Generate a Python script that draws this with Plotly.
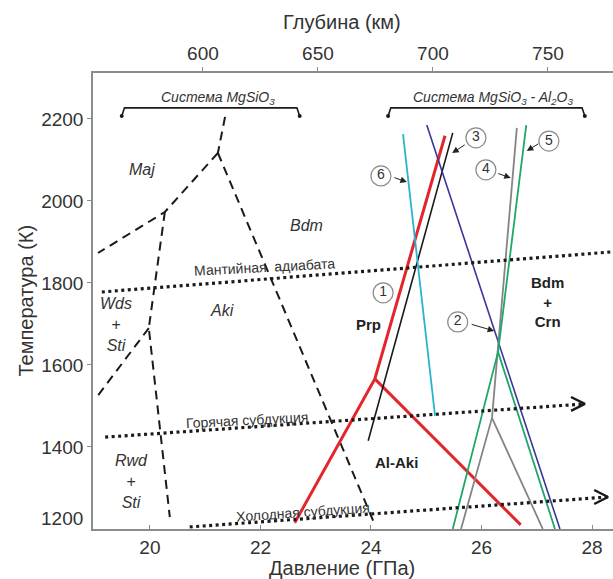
import plotly.graph_objects as go

# ---- axes ----
P_RANGE = [18.97, 28.38]          # pressure, GPa
T_RANGE = [1200, 2312]            # temperature, K
DEPTH_RANGE = [552.2, 778.3]      # depth, km (top axis)

p_ticks = [20, 22, 24, 26, 28]
t_ticks = [1400, 1600, 1800, 2000, 2200]
t_tick_bottom = 1200
depth_ticks = [600, 650, 700, 750]

# ---- MgSiO3 phase boundaries (dashed) ----
maj_top_p, maj_top_t = [21.36, 21.23], [2205, 2117]
maj_low_p, maj_low_t = [21.23, 20.27, 19.06], [2117, 1973, 1873]
aki_bdm_p, aki_bdm_t = [21.23, 24.05], [2117, 1217]
wds_aki_p, wds_aki_t = [20.27, 19.98, 20.36], [1973, 1690, 1229]
wds_rwd_p, wds_rwd_t = [19.98, 19.04], [1690, 1522]
dashed_bounds = [
    (maj_top_p, maj_top_t), (maj_low_p, maj_low_t), (aki_bdm_p, aki_bdm_t),
    (wds_aki_p, wds_aki_t), (wds_rwd_p, wds_rwd_t),
]

# ---- MgSiO3-Al2O3 boundaries ----
red_up_p, red_up_t = [22.62, 24.07, 25.34], [1215, 1566, 2159]
red_dn_p, red_dn_t = [24.07, 26.71], [1566, 1210]
black_p, black_t = [23.95, 25.48], [1415, 2166]
cyan_p, cyan_t = [24.58, 25.16], [2163, 1476]
navy_p, navy_t = [25.01, 27.42], [2185, 1200]
gray_up_p, gray_up_t = [26.64, 26.19], [2178, 1471]
gray_legs_p, gray_legs_t = [25.63, 26.19, 27.11], [1200, 1471, 1200]
green_up_p, green_up_t = [26.81, 26.30], [2185, 1632]
green_legs_p, green_legs_t = [25.48, 26.30, 27.33], [1200, 1632, 1200]

RED, BLACK, CYAN, NAVY, GRAY, GREEN = "#e3262b", "#1a1a1a", "#2ab3cf", "#3b3597", "#858585", "#1fa769"
solid_lines = [
    (red_up_p, red_up_t, RED, 3), (red_dn_p, red_dn_t, RED, 3),
    (black_p, black_t, BLACK, 1.6), (cyan_p, cyan_t, CYAN, 1.8),
    (navy_p, navy_t, NAVY, 1.6),
    (gray_up_p, gray_up_t, GRAY, 1.8), (gray_legs_p, gray_legs_t, GRAY, 1.8),
    (green_up_p, green_up_t, GREEN, 1.8), (green_legs_p, green_legs_t, GREEN, 1.8),
]

# ---- geotherms (dotted) ----
adiabat_p, adiabat_t = [19.13, 28.38], [1778, 1876]
hot_p, hot_t = [19.19, 27.87], [1424, 1505]
cold_p, cold_t = [20.72, 28.29], [1205, 1278]

# ---- text ----
phase_italic = [("Maj", 19.86, 2076), ("Bdm", 22.84, 1939), ("Aki", 21.30, 1734),
                ("Wds<br>+<br>Sti", 19.38, 1698), ("Rwd<br>+<br>Sti", 19.67, 1315)]
phase_bold = [("Prp", 23.95, 1698), ("Al-Aki", 24.47, 1361), ("Bdm<br>+<br>Crn", 27.20, 1754)]
geotherm_labels = [("Мантийная  адиабата", 22.08, 1839, -3),
                   ("Горячая субдукция", 21.76, 1466, -3),
                   ("Холодная субдукция", 22.77, 1241, -4)]
system_spans = [(19.49, 22.71), (24.31, 27.87)]
system_names = ["<i>Система MgSiO<sub>3</sub></i>",
                "<i>Система MgSiO<sub>3</sub> - Al<sub>2</sub>O<sub>3</sub></i>"]
system_label_p = [21.23, 26.21]
bracket_t, bracket_end_t, system_label_t = 2227, 2207, 2250

circle_nums = ["1", "2", "3", "4", "5", "6"]
circle_p = [24.22, 25.57, 25.90, 26.08, 27.22, 24.18]
circle_t = [1776, 1705, 2154, 2076, 2146, 2061]
# pointer heads (data) and tail offsets (px)
pointer_p = [26.23, 25.47, 26.53, 26.82, 24.65]
pointer_t = [1683, 2117, 2056, 2122, 2046]
pointer_ax = [-24, 14, -14, 13, -14]
pointer_ay = [-7, -9, -5, -8, -5]

FONT = "Liberation Sans, Arial, sans-serif"
TXT = "#333333"

fig = go.Figure()

for px_, tx_ in dashed_bounds:
    fig.add_trace(go.Scatter(x=px_, y=tx_, mode="lines",
                             line=dict(color=BLACK, width=2, dash="9px,6px")))

for px_, tx_, col, w in solid_lines:
    fig.add_trace(go.Scatter(x=px_, y=tx_, mode="lines", line=dict(color=col, width=w)))

for px_, tx_ in [(adiabat_p, adiabat_t), (hot_p, hot_t), (cold_p, cold_t)]:
    fig.add_trace(go.Scatter(x=px_, y=tx_, mode="lines",
                             line=dict(color=BLACK, width=3.2, dash="3px,3.5px")))

# open chevrons at the ends of the subduction geotherms
for px_, tx_ in [(hot_p, hot_t), (cold_p, cold_t)]:
    tip_p, tip_t = px_[-1], tx_[-1]
    fig.add_trace(go.Scatter(x=[tip_p - 0.25, tip_p, tip_p - 0.25],
                             y=[tip_t + 17, tip_t, tip_t - 17], mode="lines",
                             line=dict(color=BLACK, width=2.4)))

# system brackets
for p0, p1 in system_spans:
    fig.add_trace(go.Scatter(x=[p0, p0 + 0.05, p1 - 0.05, p1],
                             y=[bracket_end_t, bracket_t, bracket_t, bracket_end_t],
                             mode="lines", line=dict(color=BLACK, width=1.6)))
    fig.add_trace(go.Scatter(x=[p0, p1], y=[bracket_end_t, bracket_end_t], mode="markers",
                             marker=dict(color=BLACK, size=4)))

# numbered circles
fig.add_trace(go.Scatter(x=circle_p, y=circle_t, mode="markers+text", text=circle_nums,
                         textposition="middle center",
                         textfont=dict(family=FONT, size=14, color=TXT),
                         marker=dict(symbol="circle", size=20, color="white",
                                     line=dict(color="#8a8a8a", width=1.2))))

# invisible trace carrying the depth axis
fig.add_trace(go.Scatter(x=DEPTH_RANGE, y=[T_RANGE[0], T_RANGE[0]], xaxis="x2",
                         mode="markers", marker=dict(opacity=0), hoverinfo="skip"))

ann = []
for txt, p, t in phase_italic:
    ann.append(dict(x=p, y=t, text=f"<i>{txt}</i>", showarrow=False,
                    font=dict(family=FONT, size=16, color=TXT)))
for txt, p, t in phase_bold:
    ann.append(dict(x=p, y=t, text=f"<b>{txt}</b>", showarrow=False,
                    font=dict(family=FONT, size=15, color="#222222")))
for txt, p, t, ang in geotherm_labels:
    ann.append(dict(x=p, y=t, text=txt, showarrow=False, textangle=ang,
                    font=dict(family=FONT, size=14, color=TXT)))
for name, p in zip(system_names, system_label_p):
    ann.append(dict(x=p, y=system_label_t, text=name, showarrow=False,
                    font=dict(family=FONT, size=14, color=TXT)))
for p, t, ax, ay in zip(pointer_p, pointer_t, pointer_ax, pointer_ay):
    ann.append(dict(x=p, y=t, ax=ax, ay=ay, text="", showarrow=True, arrowhead=2,
                    arrowsize=1.3, arrowwidth=1, arrowcolor="#222222", standoff=0))

# axis titles and the bottom temperature label
title_font = dict(family=FONT, size=20, color=TXT)
ann += [
    dict(xref="paper", yref="paper", x=0.479, y=1.112, xanchor="center", yanchor="middle",
         text="Глубина (км)", showarrow=False, font=title_font),
    dict(xref="paper", yref="paper", x=0.479, y=-0.086, xanchor="center", yanchor="middle",
         text="Давление (ГПа)", showarrow=False, font=title_font),
    dict(xref="paper", yref="paper", x=-0.128, y=0.502, xanchor="center", yanchor="middle",
         text="Температура (К)", showarrow=False, textangle=-90, font=title_font),
    dict(xref="paper", x=0, y=t_tick_bottom, xanchor="right", yanchor="middle", xshift=-8,
         yshift=11, text=str(t_tick_bottom), showarrow=False,
         font=dict(family=FONT, size=19, color=TXT)),
]

axis_common = dict(showgrid=False, zeroline=False, showline=True, linecolor="#8c8c8c",
                   linewidth=1.5, tickcolor="#8c8c8c", ticklen=4,
                   tickfont=dict(family=FONT, size=19, color=TXT))

fig.update_layout(
    width=613, height=579,
    margin=dict(l=93, r=0, t=73, b=50),
    paper_bgcolor="white", plot_bgcolor="white",
    showlegend=False,
    xaxis=dict(range=P_RANGE, tickvals=p_ticks, ticks="inside", **axis_common),
    xaxis2=dict(range=DEPTH_RANGE, tickvals=depth_ticks, overlaying="x", side="top",
                ticks="outside", **axis_common),
    yaxis=dict(range=T_RANGE, tickvals=t_ticks, ticks="outside", **axis_common),
    annotations=ann,
)

fig.write_html("out.html")
